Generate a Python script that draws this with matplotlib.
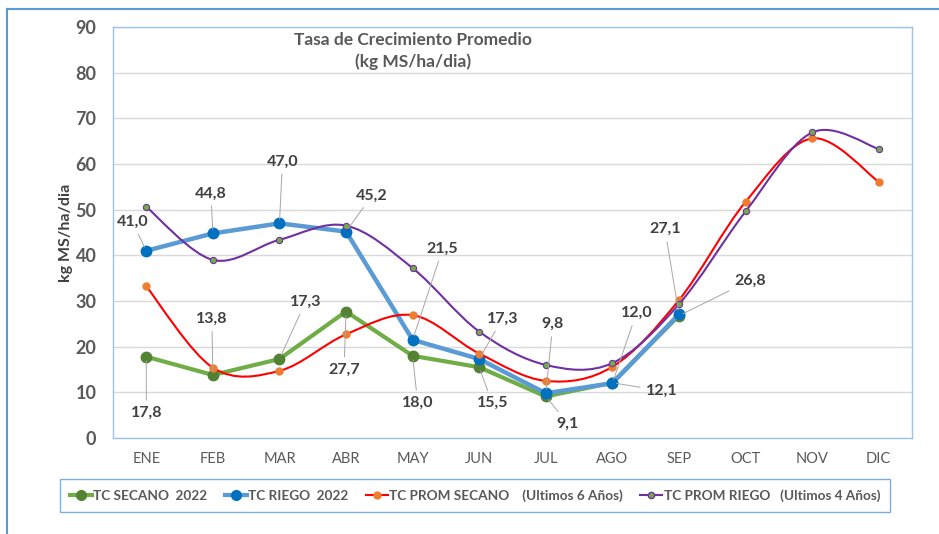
import numpy as np
import matplotlib
matplotlib.use("Agg")
import matplotlib.pyplot as plt
from matplotlib.path import Path
from matplotlib.patches import PathPatch
from matplotlib.lines import Line2D

plt.rcParams["font.family"] = ["Lato", "DejaVu Sans"]

# data
meses = ["ENE", "FEB", "MAR", "ABR", "MAY", "JUN", "JUL", "AGO", "SEP", "OCT", "NOV", "DIC"]
secano_2022 = [17.8, 13.8, 17.3, 27.7, 18.0, 15.5, 9.1, 12.1, 26.8]
riego_2022 = [41.0, 44.8, 47.0, 45.2, 21.5, 17.3, 9.8, 12.0, 27.1]
prom_secano = [33.2, 15.4, 14.7, 22.7, 26.9, 18.5, 12.5, 15.6, 30.2, 51.7, 65.6, 56.1]
prom_riego = [50.6, 39.0, 43.4, 46.5, 37.2, 23.3, 16.0, 16.4, 29.3, 49.6, 66.9, 63.3]

label_secano = "TC SECANO  2022"
label_riego = "TC RIEGO  2022"
label_prom_sec = "TC PROM SECANO    (Ultimos 6 Años)"
label_prom_rie = "TC PROM RIEGO   (Ultimos 4 Años)"

# label offsets (pixels) for the data labels
off_riego = [(-14, 29), (-2, 40), (3, 62), (26, 36), (30, 91), (23, 40), (7, 69), (24, 70), (-14, 85)]
off_secano = [(0, -56), (-1, 56), (26, 57), (-2, -58), (5, -47), (13, -36), (22, -27), (49, -8), (71, 35)]

GRAY = "#595959"
DARK = "#404040"


def smooth_path(xs, ys):
    # excel-like smoothed line (catmull-rom as bezier)
    pts = np.column_stack([xs, ys]).astype(float)
    n = len(pts)
    verts = [pts[0]]
    codes = [Path.MOVETO]
    for i in range(n - 1):
        p_prev = pts[i - 1] if i > 0 else pts[i]
        p_next2 = pts[i + 2] if i + 2 < n else pts[i + 1]
        c1 = pts[i] + (pts[i + 1] - p_prev) / 6.0
        c2 = pts[i + 1] - (p_next2 - pts[i]) / 6.0
        verts += [c1, c2, pts[i + 1]]
        codes += [Path.CURVE4] * 3
    return Path(verts, codes)


fig = plt.figure(figsize=(9.39, 5.34), dpi=100)
ax = fig.add_axes([113 / 939, 1 - 438 / 534, 799 / 939, 411 / 534])

x12 = np.arange(len(meses))
x9 = np.arange(len(secano_2022))

ax.plot(x9, secano_2022, color="#70AD47", lw=3, marker="o", ms=7.5,
        mfc="#548235", mec="#548235", zorder=3)
ax.plot(x9, riego_2022, color="#5B9BD5", lw=3.2, marker="o", ms=7.5,
        mfc="#0070C0", mec="#0070C0", zorder=4)

ax.add_patch(PathPatch(smooth_path(x12, prom_secano), fill=False,
                       edgecolor="#FF0000", lw=1.5, zorder=5))
ax.plot(x12, prom_secano, ls="none", marker="o", ms=5, mfc="#ED7D31",
        mec="#ED7D31", zorder=6)
ax.add_patch(PathPatch(smooth_path(x12, prom_riego), fill=False,
                       edgecolor="#7030A0", lw=1.5, zorder=7))
ax.plot(x12, prom_riego, ls="none", marker="o", ms=4.5, mfc="#70AD47",
        mec="#7030A0", mew=0.8, zorder=8)

# data labels
for xi, v, off in zip(x9, riego_2022, off_riego):
    ax.annotate(f"{v:.1f}".replace(".", ","), (xi, v), xytext=off,
                textcoords="offset pixels", ha="center", va="center",
                fontsize=11.5, fontweight="bold", color=DARK, zorder=10,
                arrowprops=dict(arrowstyle="-", color="#A6A6A6", lw=0.7,
                                shrinkA=2, shrinkB=3))
for xi, v, off in zip(x9, secano_2022, off_secano):
    ax.annotate(f"{v:.1f}".replace(".", ","), (xi, v), xytext=off,
                textcoords="offset pixels", ha="center", va="center",
                fontsize=11.5, fontweight="bold", color=DARK, zorder=10,
                arrowprops=dict(arrowstyle="-", color="#A6A6A6", lw=0.7,
                                shrinkA=2, shrinkB=3))

ax.set_xlim(-0.5, 11.5)
ax.set_ylim(0, 90)
ax.set_yticks(range(0, 91, 10))
ax.set_xticks(x12)
ax.set_xticklabels(meses)
ax.tick_params(axis="x", length=0, pad=10, labelsize=10.5, labelcolor=GRAY)
ax.tick_params(axis="y", length=0, pad=12, labelsize=13, labelcolor=GRAY)
for t in ax.get_yticklabels():
    t.set_fontweight("bold")
ax.grid(axis="y", color="#D9D9D9", lw=1)
ax.set_axisbelow(True)
for s in ax.spines.values():
    s.set_color("#9DC3E6")
    s.set_linewidth(1)

ax.set_ylabel("kg MS/ha/dia", fontsize=11.5, fontweight="bold", color=DARK, labelpad=2)

fig.text(413 / 939, 1 - 51 / 534, "Tasa de Crecimiento Promedio\n(kg MS/ha/dia)",
         ha="center", va="center", fontsize=12.5, fontweight="bold", color=GRAY,
         linespacing=1.35)

# outer chart border
fig.add_artist(Line2D([7 / 939, 7 / 939], [0, 1 - 9 / 534], color="#5B9BD5", lw=1.5))
fig.add_artist(Line2D([7 / 939, 1], [1 - 9 / 534, 1 - 9 / 534], color="#5B9BD5", lw=1.5))

handles = [
    Line2D([], [], color="#70AD47", lw=3, marker="o", ms=7, mfc="#548235", mec="#548235"),
    Line2D([], [], color="#5B9BD5", lw=3, marker="o", ms=7, mfc="#0070C0", mec="#0070C0"),
    Line2D([], [], color="#FF0000", lw=1.5, marker="o", ms=5, mfc="#ED7D31", mec="#ED7D31"),
    Line2D([], [], color="#7030A0", lw=1.5, marker="o", ms=4.5, mfc="#70AD47", mec="#7030A0"),
]
leg = fig.legend(handles, [label_secano, label_riego, label_prom_sec, label_prom_rie],
                 loc="center", bbox_to_anchor=(475 / 939, 1 - 495.5 / 534), ncol=4,
                 frameon=True, fancybox=False, handlelength=1.6, handletextpad=0.1,
                 columnspacing=1.3, prop={"weight": "bold", "size": 9.8},
                 borderpad=0.75)
leg.get_frame().set_edgecolor("#5B9BD5")
leg.get_frame().set_linewidth(1)
for t in leg.get_texts():
    t.set_color(GRAY)

fig.savefig("out.png", dpi=100)
